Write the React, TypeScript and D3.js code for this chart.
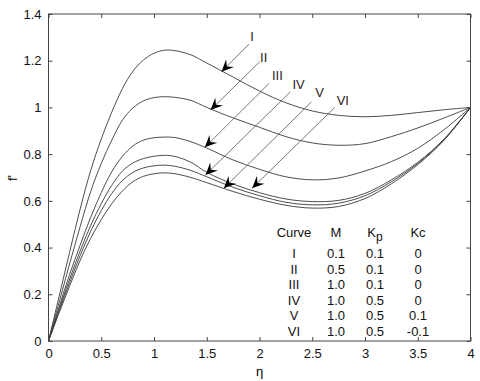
import React, { useEffect, useRef } from "react";
import { select, scaleLinear, axisBottom, axisLeft, axisTop, axisRight, line, curveCatmullRom } from "d3";

// eta grid shared by all six velocity profiles
const etaGrid = [0, 0.1, 0.2, 0.3, 0.4, 0.5, 0.6, 0.7, 0.8, 0.9, 1.0, 1.1, 1.2, 1.35, 1.5, 1.75, 2.0, 2.25, 2.5, 2.75, 3.0, 3.25, 3.5, 3.75, 4.0];

const curveI = [0, 0.19, 0.38, 0.565, 0.73, 0.865, 0.98, 1.08, 1.155, 1.203, 1.232, 1.245, 1.243, 1.225, 1.19, 1.13, 1.07, 1.02, 0.985, 0.966, 0.96, 0.966, 0.978, 0.99, 1.0];
const curveII = [0, 0.165, 0.33, 0.49, 0.64, 0.76, 0.86, 0.945, 0.998, 1.028, 1.042, 1.046, 1.043, 1.03, 1.0, 0.955, 0.915, 0.875, 0.848, 0.838, 0.845, 0.875, 0.912, 0.955, 1.0];
const curveIII = [0, 0.145, 0.285, 0.41, 0.53, 0.635, 0.725, 0.79, 0.835, 0.86, 0.87, 0.873, 0.871, 0.853, 0.826, 0.775, 0.735, 0.703, 0.69, 0.698, 0.728, 0.768, 0.825, 0.905, 1.0];
const curveIV = [0, 0.135, 0.265, 0.385, 0.495, 0.588, 0.667, 0.727, 0.762, 0.781, 0.791, 0.795, 0.79, 0.765, 0.722, 0.672, 0.635, 0.608, 0.597, 0.602, 0.632, 0.69, 0.765, 0.865, 1.0];
const curveV = [0, 0.128, 0.25, 0.365, 0.47, 0.558, 0.632, 0.687, 0.722, 0.741, 0.75, 0.753, 0.748, 0.73, 0.703, 0.658, 0.622, 0.594, 0.583, 0.59, 0.622, 0.682, 0.76, 0.862, 1.0];
const curveVI = [0, 0.12, 0.235, 0.345, 0.44, 0.52, 0.588, 0.642, 0.682, 0.705, 0.716, 0.72, 0.716, 0.7, 0.678, 0.64, 0.607, 0.581, 0.569, 0.576, 0.61, 0.673, 0.755, 0.86, 1.0];

const xTicks = [0, 0.5, 1, 1.5, 2, 2.5, 3, 3.5, 4];
const yTicks = [0, 0.2, 0.4, 0.6, 0.8, 1, 1.2, 1.4];

// arrow annotations (data units)
const arrowLabels = ["I", "II", "III", "IV", "V", "VI"];
const labelEta = [1.93, 2.04, 2.17, 2.37, 2.57, 2.79];
const labelF = [1.305, 1.215, 1.137, 1.1, 1.062, 1.03];
const arrowFromEta = [1.901, 2.003, 2.091, 2.294, 2.493, 2.714];
const arrowFromF = [1.271, 1.196, 1.103, 1.067, 1.024, 1.0];
const arrowToEta = [1.64, 1.536, 1.482, 1.488, 1.662, 1.93];
const arrowToF = [1.153, 0.989, 0.829, 0.711, 0.654, 0.654];

// parameter table
const curveNames = ["I", "II", "III", "IV", "V", "VI"];
const mValues = ["0.1", "0.5", "1.0", "1.0", "1.0", "1.0"];
const kpValues = ["0.1", "0.1", "0.1", "0.5", "0.5", "0.5"];
const kcValues = ["0", "0", "0", "0", "0.1", "-0.1"];

const W = 480, H = 381;
const FONT = "'Liberation Sans', Arial, sans-serif";

function App() {
    const svgRef = useRef<SVGSVGElement>(null);

    useEffect(() => {
        const svg = select(svgRef.current);
        svg.selectAll("*").remove();

        const x = scaleLinear().domain([0, 4]).range([48.5, 470.5]);
        const y = scaleLinear().domain([0, 1.4]).range([341, 14]);

        const series = [curveI, curveII, curveIII, curveIV, curveV, curveVI];
        const lineGen = line<number>()
            .x((d, i) => x(etaGrid[i]))
            .y(d => y(d))
            .curve(curveCatmullRom.alpha(0.5));

        svg.append("g")
            .selectAll("path")
            .data(series)
            .join("path")
            .attr("d", d => lineGen(d))
            .attr("fill", "none")
            .attr("stroke", "#3a3a3a")
            .attr("stroke-width", 0.9);

        // axes, matlab style: ticks inward on all four sides
        const styleAxis = g => {
            g.select(".domain").remove();
            g.selectAll("line").attr("stroke", "#444");
            g.selectAll("text").attr("font-family", FONT).attr("font-size", 13).attr("fill", "#111");
        };
        svg.append("g")
            .attr("transform", `translate(0,${y(0)})`)
            .call(axisBottom(x).tickValues(xTicks).tickSize(-4).tickPadding(8).tickFormat(d => String(d)))
            .call(styleAxis);
        svg.append("g")
            .attr("transform", `translate(${x(0)},0)`)
            .call(axisLeft(y).tickValues(yTicks).tickSize(-4).tickPadding(7).tickFormat(d => String(d)))
            .call(styleAxis);
        svg.append("g")
            .attr("transform", `translate(0,${y(1.4)})`)
            .call(axisTop(x).tickValues(xTicks).tickSize(-4).tickFormat(() => ""))
            .call(styleAxis);
        svg.append("g")
            .attr("transform", `translate(${x(4)},0)`)
            .call(axisRight(y).tickValues(yTicks).tickSize(-4).tickFormat(() => ""))
            .call(styleAxis);

        svg.append("rect")
            .attr("x", x(0)).attr("y", y(1.4))
            .attr("width", x(4) - x(0)).attr("height", y(0) - y(1.4))
            .attr("fill", "none").attr("stroke", "#444").attr("stroke-width", 1);

        // axis labels
        svg.append("text")
            .attr("x", x(2)).attr("y", 376)
            .attr("text-anchor", "middle")
            .attr("font-family", FONT).attr("font-size", 13)
            .text("η");
        svg.append("text")
            .attr("transform", `translate(17,178) rotate(-90)`)
            .attr("text-anchor", "middle")
            .attr("font-family", FONT).attr("font-size", 13)
            .text("f'");

        // arrows
        const ann = svg.append("g");
        arrowLabels.forEach((lab, i) => {
            const x0 = x(arrowFromEta[i]), y0 = y(arrowFromF[i]);
            const x1 = x(arrowToEta[i]), y1 = y(arrowToF[i]);
            ann.append("line")
                .attr("x1", x0).attr("y1", y0).attr("x2", x1).attr("y2", y1)
                .attr("stroke", "#555").attr("stroke-width", 0.8);
            const ang = Math.atan2(y1 - y0, x1 - x0) * 180 / Math.PI;
            ann.append("path")
                .attr("d", "M0,0 L-12,-5.5 L-7.5,0 L-12,5.5 Z")
                .attr("transform", `translate(${x1},${y1}) rotate(${ang})`)
                .attr("fill", "#000");
            ann.append("text")
                .attr("x", x(labelEta[i])).attr("y", y(labelF[i]))
                .attr("text-anchor", "middle").attr("dominant-baseline", "central")
                .attr("font-family", FONT).attr("font-size", 13).attr("fill", "#2a2020")
                .text(lab);
        });

        // parameter table
        const tbl = svg.append("g")
            .attr("font-family", FONT).attr("font-size", 13).attr("fill", "#111")
            .attr("text-anchor", "middle").attr("dominant-baseline", "central");
        const colX = [294, 336, 375, 418];
        const headerY = 232, rowY0 = 253.5, rowStep = 15.5;
        tbl.append("text").attr("x", colX[0]).attr("y", headerY).text("Curve");
        tbl.append("text").attr("x", colX[1]).attr("y", headerY).text("M");
        const kp = tbl.append("text").attr("x", colX[2]).attr("y", headerY);
        kp.append("tspan").text("K");
        kp.append("tspan").attr("dy", 5).attr("font-size", 12).text("p");
        tbl.append("text").attr("x", colX[3]).attr("y", headerY).text("Kc");
        curveNames.forEach((name, i) => {
            const yy = rowY0 + i * rowStep;
            tbl.append("text").attr("x", colX[0]).attr("y", yy).text(name);
            tbl.append("text").attr("x", colX[1]).attr("y", yy).text(mValues[i]);
            tbl.append("text").attr("x", colX[2]).attr("y", yy).text(kpValues[i]);
            tbl.append("text").attr("x", colX[3]).attr("y", yy).text(kcValues[i]);
        });
    }, []);

    return (
        <svg ref={svgRef} width={W} height={H}
            style={{ position: "absolute", left: 0, top: 0, background: "#fff" }} />
    );
}

export default App;
